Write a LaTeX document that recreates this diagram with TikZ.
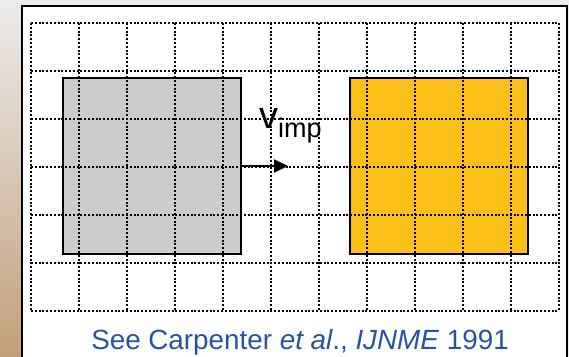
\documentclass[tikz,border=0pt]{standalone}
\usepackage{fontspec}
\setmainfont{Liberation Sans}
\usetikzlibrary{arrows,arrows.meta}
\definecolor{impgray}{RGB}{204,204,204}
\definecolor{targetorange}{RGB}{251,191,23}
\definecolor{citeblue}{RGB}{42,82,164}
\definecolor{photobg}{RGB}{236,236,236}
\definecolor{phototan}{RGB}{196,160,122}
\tikzstyle{body} = [rectangle, minimum width=178pt, minimum height=176pt, inner sep=0pt, draw=black, line width=2pt]
\tikzstyle{gridline} = [line width=2pt, dash pattern=on 2pt off 1.8pt]
\tikzstyle{arrow} = [line width=2pt,-{Triangle[length=14pt,width=13pt]}]

\begin{document}
\begin{tikzpicture}[x=1pt, y=-1pt, node distance=100pt]
\useasboundingbox (0,0) rectangle (569,356);

% background and frame
\fill[photobg] (0,0) rectangle (569,356);
\shade[top color=photobg, bottom color=phototan] (0,0) rectangle (22,356);
\fill[white] (22,6) rectangle (567,356);
\draw[line width=2pt] (22,357) -- (22,6) -- (567,6) -- (567,357);

\node (impactor) [body, fill=impgray] at (152,166) {};
\node (target) [body, fill=targetorange, right of=impactor, xshift=187pt] {};

% grid
\foreach \i in {0,...,11}
  \draw[gridline] ({31+48*\i},23) -- ({31+48*\i},311);
\foreach \j in {0,...,6}
  \draw[gridline] (31,{23+48*\j}) -- (559,{23+48*\j});

\coordinate (tip) at (288,166);
\draw [arrow] (impactor.east) -- (tip);
\node (vimp) [anchor=base west, inner sep=0pt] at (259,128) {\fontsize{38}{40}\selectfont v\raisebox{-9pt}{\fontsize{27}{28}\selectfont imp}};

\node (cite) [anchor=base, inner sep=0pt, text=citeblue] at (300,349) {\fontsize{27.8}{30}\selectfont See Carpenter \textit{et al}., \textit{IJNME} 1991};

\end{tikzpicture}
\end{document}
